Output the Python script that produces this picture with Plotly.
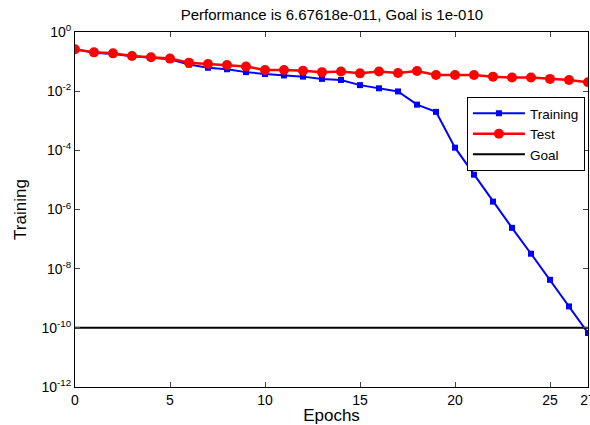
import plotly.graph_objects as go

epochs = list(range(28))
training = [0.26, 0.20, 0.18, 0.15, 0.135, 0.12, 0.079, 0.062, 0.055, 0.044,
            0.038, 0.034, 0.031, 0.026, 0.024, 0.016, 0.0125, 0.0098, 0.0035, 0.0020,
            1.23e-4, 1.5e-5, 1.85e-6, 2.4e-7, 3.2e-8, 4.2e-9, 5.3e-10, 6.67618e-11]
test = [0.26, 0.205, 0.19, 0.155, 0.14, 0.126, 0.092, 0.083, 0.077, 0.068,
        0.052, 0.052, 0.049, 0.044, 0.046, 0.040, 0.046, 0.041, 0.048, 0.035,
        0.035, 0.035, 0.031, 0.029, 0.029, 0.026, 0.024, 0.020]
goal = 1e-10
x_ticks = [0, 5, 10, 15, 20, 25, 27]
y_tickvals = [1, 1e-2, 1e-4, 1e-6, 1e-8, 1e-10, 1e-12]
y_ticktext = ["10<sup>0</sup>", "10<sup>-2</sup>", "10<sup>-4</sup>", "10<sup>-6</sup>",
              "10<sup>-8</sup>", "10<sup>-10</sup>", "10<sup>-12</sup>"]
title = "Performance is 6.67618e-011, Goal is 1e-010"

fig = go.Figure()
fig.add_trace(go.Scatter(x=epochs, y=training, name="Training", mode="lines+markers",
                         line=dict(color="#0000ff", width=2),
                         marker=dict(symbol="square", size=6, color="#0000ff")))
fig.add_trace(go.Scatter(x=epochs, y=test, name="Test", mode="lines+markers",
                         line=dict(color="#ff0000", width=2.5),
                         marker=dict(symbol="circle", size=10, color="#ff0000")))
fig.add_trace(go.Scatter(x=[epochs[0], epochs[-1]], y=[goal, goal], name="Goal", mode="lines",
                         line=dict(color="#000000", width=2)))

font = dict(family="Liberation Sans, Arial, sans-serif", size=14, color="#000000")
fig.update_layout(
    width=590, height=425,
    margin=dict(l=75, r=2, t=32, b=38, autoexpand=False),
    paper_bgcolor="white", plot_bgcolor="white",
    font=font,
    title=dict(text=title, x=0.5625, xanchor="center", y=0.965, yanchor="middle",
               font=dict(size=15)),
    showlegend=True,
    legend=dict(x=0.764, y=0.817, xanchor="left", yanchor="top",
                bordercolor="#000000", borderwidth=1, bgcolor="white",
                font=dict(size=13.5), tracegroupgap=0, itemwidth=52),
)
fig.update_xaxes(range=[0, 27], tickvals=x_ticks, ticks="inside", ticklen=5,
                 showline=True, linecolor="#000000", linewidth=1, mirror="ticks",
                 showgrid=False, zeroline=False, ticklabeloverflow="allow", automargin=False,
                 title=dict(text="Epochs", standoff=0), tickfont=dict(size=14))
fig.update_yaxes(type="log", range=[-12, 0], tickvals=y_tickvals, ticktext=y_ticktext,
                 ticks="inside", ticklen=5, automargin=False,
                 showline=True, linecolor="#000000", linewidth=1, mirror="ticks",
                 showgrid=False, zeroline=False,
                 title=dict(text="Training", standoff=10), tickfont=dict(size=14))

fig.write_html("out.html", config={"displayModeBar": False},
               post_script="document.body.style.margin='0';")
